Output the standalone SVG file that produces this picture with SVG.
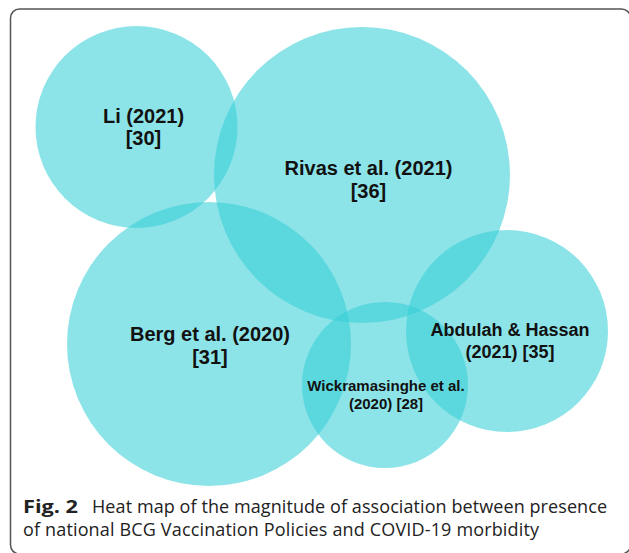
<svg xmlns="http://www.w3.org/2000/svg" width="629" height="553" viewBox="0 0 629 553">
<style>
.c{fill:#34cfd6;fill-opacity:0.56;stroke:none}
.t{font-family:"Liberation Sans",Arial,sans-serif;font-weight:bold;fill:#111;text-anchor:middle}
.cap{font-family:"Open Sans","Noto Sans",sans-serif;font-size:18px;fill:#222}
</style>
<rect width="629" height="553" fill="#fff"/>
<rect x="10.5" y="9" width="620" height="545" rx="9" fill="none" stroke="#555" stroke-width="1.5"/>
<g id="li">
<circle class="c" cx="136.5" cy="127" r="101"/>
<text class="t" font-size="20"><tspan x="143.5" y="123">Li (2021)</tspan><tspan x="143.5" y="145">[30]</tspan></text>
</g>
<g id="rivas">
<circle class="c" cx="362" cy="175" r="148"/>
<text class="t" font-size="20"><tspan x="368.5" y="175">Rivas et al. (2021)</tspan><tspan x="368.5" y="198">[36]</tspan></text>
</g>
<g id="berg">
<circle class="c" cx="209" cy="344" r="142"/>
<text class="t" font-size="20"><tspan x="210" y="341">Berg et al. (2020)</tspan><tspan x="210" y="364">[31]</tspan></text>
</g>
<g id="wick">
<circle class="c" cx="385" cy="385" r="83"/>
</g>
<g id="abdulah">
<circle class="c" cx="507" cy="331" r="101"/>
<text class="t" font-size="18"><tspan x="510" y="336">Abdulah &amp; Hassan</tspan><tspan x="510" y="357.5">(2021) [35]</tspan></text>
</g>
<g id="wick-label">
<text class="t" font-size="15"><tspan x="386" y="391">Wickramasinghe et al.</tspan><tspan x="386" y="408.5">(2020) [28]</tspan></text>
</g>
<g id="connectors"></g>
<g id="caption">
<text class="cap" x="23" y="513" font-weight="bold" textLength="55" lengthAdjust="spacingAndGlyphs">Fig. 2</text>
<text class="cap" x="92" y="513" textLength="515" lengthAdjust="spacing">Heat map of the magnitude of association between presence</text>
<text class="cap" x="23" y="536" textLength="516" lengthAdjust="spacing">of national BCG Vaccination Policies and COVID-19 morbidity</text>
</g>
</svg>
